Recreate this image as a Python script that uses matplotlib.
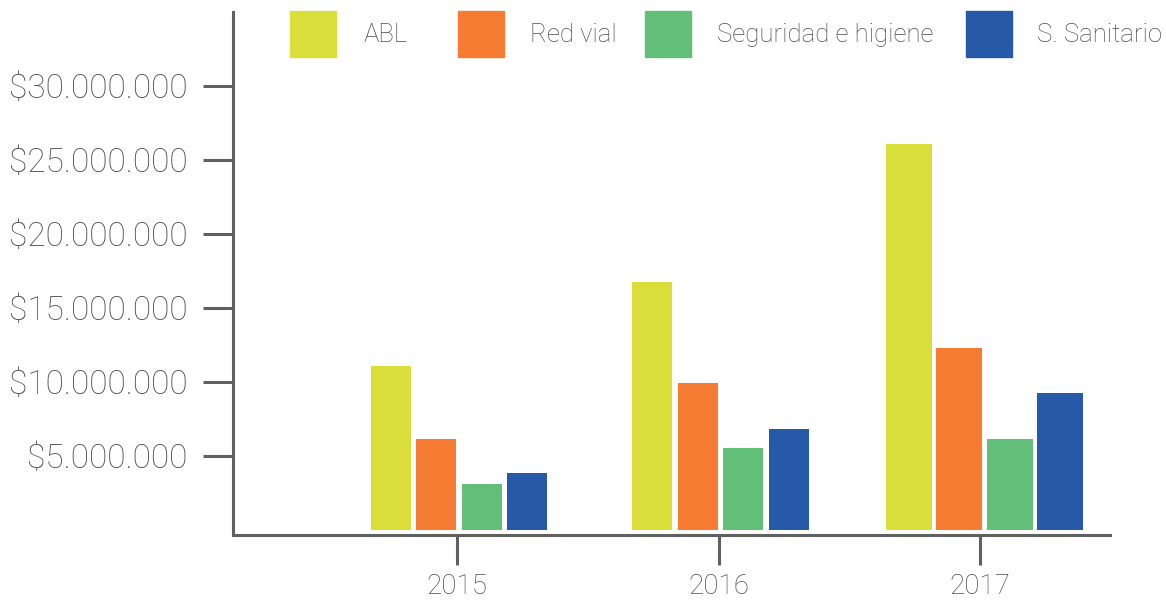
import matplotlib
matplotlib.use("Agg")
import matplotlib.pyplot as plt
from matplotlib.patches import Rectangle
from matplotlib.ticker import FuncFormatter
import numpy as np

years = ["2015", "2016", "2017"]
series = ["ABL", "Red vial", "Seguridad e higiene", "S. Sanitario"]
abl = [11.08e6, 16.76e6, 26.08e6]
red_vial = [6.15e6, 9.93e6, 12.3e6]
seguridad = [3.13e6, 5.54e6, 6.15e6]
sanitario = [3.85e6, 6.82e6, 9.26e6]
yticks = [5e6, 10e6, 15e6, 20e6, 25e6, 30e6]

colors = ["#D9DE3A", "#F57C32", "#62BF77", "#265AA8"]
axis_color = "#606060"
text_color = "#4d4d4d"

plt.rcParams["font.family"] = ["Roboto", "DejaVu Sans"]

W, H = 1166, 601
fig = plt.figure(figsize=(W / 100, H / 100), dpi=100)
ax = fig.add_axes([233 / W, 1 - 535 / H, 877 / W, 523 / H])

# 2017 bars are drawn a bit wider in the original
widths = np.array([0.153, 0.153, 0.176])
steps = np.array([0.174, 0.174, 0.193])
shifts = np.array([0.008, 0.008, 0.017])
x = np.arange(len(years))

for i, (vals, c) in enumerate(zip([abl, red_vial, seguridad, sanitario], colors)):
    pos = x + (i - 1.5) * steps + shifts
    ax.bar(pos, vals, width=widths, color=c, label=series[i])

ax.set_xlim(-0.857, 2.497)
ax.set_ylim(-0.35e6, 35e6)

for s in ["top", "right"]:
    ax.spines[s].set_visible(False)
for s in ["left", "bottom"]:
    ax.spines[s].set_color(axis_color)
    ax.spines[s].set_linewidth(2.2)

ax.set_xticks(x)
ax.set_xticklabels(years)
ax.set_yticks(yticks)
ax.yaxis.set_major_formatter(FuncFormatter(lambda v, p: "$" + f"{int(v):,}".replace(",", ".")))
ax.tick_params(axis="both", colors=axis_color, length=21.6, width=2.2, direction="out")
ax.tick_params(axis="y", labelsize=24, pad=11, labelcolor=text_color)
ax.tick_params(axis="x", labelsize=20, pad=6, labelcolor=text_color)
for lab in ax.get_xticklabels() + ax.get_yticklabels():
    lab.set_fontweight("light")

# legend drawn by hand across the top
leg_boxes = [290, 458, 645, 966]
leg_texts = [364, 530, 717, 1037]
for name, c, bx, tx in zip(series, colors, leg_boxes, leg_texts):
    fig.add_artist(Rectangle((bx / W, 1 - 57 / H), 46 / W, 46 / H,
                             transform=fig.transFigure, color=c))
    fig.text(tx / W, 1 - 35 / H, name, fontsize=18.5, fontweight="light",
             color=text_color, va="center", ha="left")

fig.savefig("out.png", dpi=100)
